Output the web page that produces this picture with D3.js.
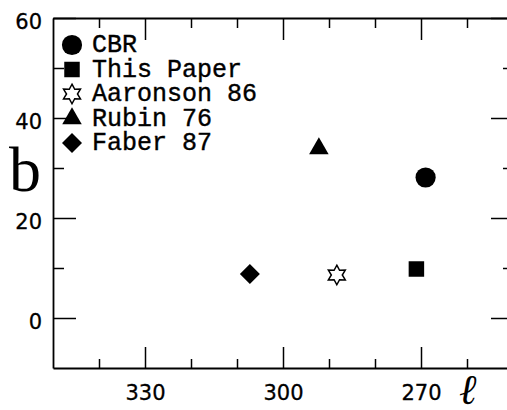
<!DOCTYPE html>
<html>
<head>
<meta charset="utf-8">
<script src="https://cdn.jsdelivr.net/npm/d3@7"></script>
<style>
  body { margin: 0; background: #fff; }
  svg { display: block; }
  .axis path, .axis line { stroke: #000; }
  .axis path { stroke-width: 1.8; }
  .axis line { stroke-width: 1.5; }
  .axis text { font-family: "DejaVu Sans", sans-serif; font-size: 21px; fill: #000; stroke: #000; stroke-width: 0.3; }
  .legend text { font-family: "Liberation Mono", monospace; font-size: 25px; fill: #000; stroke: #000; stroke-width: 0.4; }
</style>
</head>
<body>
<svg width="507" height="410"></svg>
<script>
// points (galactic l, b in degrees)
var sources = ["CBR", "This Paper", "Aaronson 86", "Rubin 76", "Faber 87"];
var lon = [269, 271, 288.3, 292.2, 307.2];
var lat = [28.1, 9.8, 8.6, 33.9, 8.8];

var xMajor = [330, 300, 270];
var xMinor = [340, 320, 310, 290, 280, 260];
var yMajor = [0, 20, 40, 60];
var yMinor = [10, 30, 50];

var svg = d3.select("svg"),
    width = +svg.attr("width"),
    height = +svg.attr("height");

var x = d3.scaleLinear().domain([350, 250]).range([53, 513]);
var y = d3.scaleLinear().domain([-10, 60]).range([368, 18]);

// six pointed star, outline
var star6 = {
  draw: function(context, size) {
    var ro = Math.sqrt(size / 2.2), ri = ro * 0.56;
    for (var i = 0; i < 12; i++) {
      var r = i % 2 ? ri : ro;
      var a = i * Math.PI / 6 - Math.PI / 2;
      if (i == 0) context.moveTo(r * Math.cos(a), r * Math.sin(a));
      else context.lineTo(r * Math.cos(a), r * Math.sin(a));
    }
    context.closePath();
  }
};

var marker = {
  "CBR": { type: d3.symbolCircle, size: 320, rot: 0 },
  "This Paper": { type: d3.symbolSquare, size: 240, rot: 0 },
  "Aaronson 86": { type: star6, size: 210, rot: 0, open: true },
  "Rubin 76": { type: d3.symbolTriangle, size: 165, rot: 0 },
  "Faber 87": { type: d3.symbolSquare, size: 200, rot: 45 }
};

function symPath(name) {
  return d3.symbol().type(marker[name].type).size(marker[name].size)();
}

// axes: big ticks with labels, small ticks without
var gBottom = svg.append("g").attr("class", "axis").attr("transform", "translate(0," + y(-10) + ")");
gBottom.call(d3.axisBottom(x).tickValues(xMajor).tickSizeInner(-21).tickSizeOuter(0).tickPadding(17).tickFormat(d3.format("d")));
gBottom.append("g").call(d3.axisBottom(x).tickValues(xMinor).tickSizeInner(-9).tickSizeOuter(0).tickFormat(""))
  .select(".domain").remove();

var gTop = svg.append("g").attr("class", "axis").attr("transform", "translate(0," + y(60) + ")");
gTop.call(d3.axisTop(x).tickValues(xMajor).tickSizeInner(-22).tickSizeOuter(0).tickFormat(""));
gTop.append("g").call(d3.axisTop(x).tickValues(xMinor).tickSizeInner(-10).tickSizeOuter(0).tickFormat(""))
  .select(".domain").remove();

var gLeft = svg.append("g").attr("class", "axis").attr("transform", "translate(" + x(350) + ",0)");
gLeft.call(d3.axisLeft(y).tickValues(yMajor).tickSizeInner(-23).tickSizeOuter(0).tickPadding(11).tickFormat(d3.format("d")));
gLeft.selectAll("text").attr("dy", "0.5em");
gLeft.append("g").call(d3.axisLeft(y).tickValues(yMinor).tickSizeInner(-11).tickSizeOuter(0).tickFormat(""))
  .select(".domain").remove();

var gRight = svg.append("g").attr("class", "axis").attr("transform", "translate(" + x(250) + ",0)");
gRight.call(d3.axisRight(y).tickValues(yMajor).tickSizeInner(-22).tickSizeOuter(0).tickFormat(""));
gRight.append("g").call(d3.axisRight(y).tickValues(yMinor).tickSizeInner(-10).tickSizeOuter(0).tickFormat(""))
  .select(".domain").remove();

// axis titles
svg.append("text")
  .attr("x", 9).attr("y", 191)
  .attr("font-family", "Liberation Serif, serif")
  .attr("font-size", 64)
  .text("b");

svg.append("text")
  .attr("x", 459).attr("y", 404)
  .attr("font-family", "DejaVu Serif, serif")
  .attr("font-style", "italic")
  .attr("font-size", 42)
  .text("ℓ");

// points
svg.append("g").selectAll("path")
  .data(sources)
  .enter().append("path")
  .attr("d", function(d) { return symPath(d); })
  .attr("transform", function(d, i) {
    return "translate(" + x(lon[i]) + "," + y(lat[i]) + ") rotate(" + marker[d].rot + ")";
  })
  .attr("fill", function(d) { return marker[d].open ? "#fff" : "#000"; })
  .attr("stroke", "#000")
  .attr("stroke-width", function(d) { return marker[d].open ? 1.5 : 0; });

// legend
var legend = svg.append("g").attr("class", "legend")
  .selectAll("g")
  .data(sources)
  .enter().append("g")
  .attr("transform", function(d, i) { return "translate(72," + (45 + i * 24.5) + ")"; });

legend.append("path")
  .attr("d", function(d) { return symPath(d); })
  .attr("transform", function(d) { return "rotate(" + marker[d].rot + ")"; })
  .attr("fill", function(d) { return marker[d].open ? "#fff" : "#000"; })
  .attr("stroke", "#000")
  .attr("stroke-width", function(d) { return marker[d].open ? 1.5 : 0; });

legend.append("text")
  .attr("x", 20)
  .attr("y", 7)
  .text(function(d) { return d; });
</script>
</body>
</html>
